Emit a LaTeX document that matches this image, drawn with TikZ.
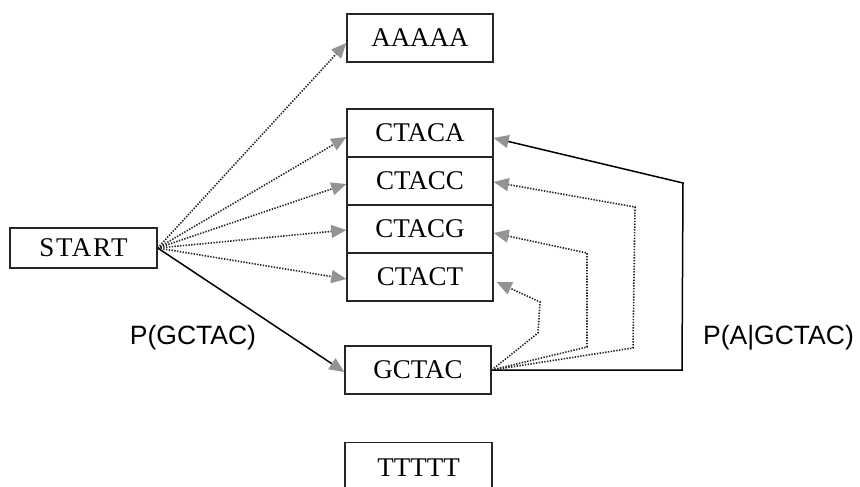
\documentclass[tikz,border=0pt]{standalone}
\usepackage{fontspec}
\setmainfont{Liberation Serif}
\newfontfamily\labelfont{Liberation Sans}
\usetikzlibrary{arrows.meta}

\tikzset{
  seqbox/.style={draw=black!85, line width=1.4pt, rectangle, inner sep=0pt,
    minimum width=146pt, minimum height=48pt,
    font=\fontsize{27}{29}\selectfont},
  tip/.style={-{Triangle[length=15pt,width=13pt,color=gray!85]}},
  dotlink/.style={tip, draw=black!85, line width=1.6pt,
    dash pattern=on 1.4pt off 1.4pt},
  solidlink/.style={tip, draw=black, line width=1.5pt},
  problabel/.style={font=\labelfont\fontsize{26.5}{28}\selectfont, inner sep=0pt}
}

\begin{document}
\begin{tikzpicture}[x=1pt,y=-1pt]
  \clip (0,0) rectangle (860,487);
  \fill[white] (0,0) rectangle (860,487);

  % states
  \node[seqbox] (aaaaa) at (420,38) {AAAAA};
  \node[seqbox] (ctaca) at (420,133) {CTACA};
  \node[seqbox] (ctacc) at (420,181) {CTACC};
  \node[seqbox] (ctacg) at (420,229) {CTACG};
  \node[seqbox] (ctact) at (420,277) {CTACT};
  \node[seqbox, minimum width=147pt, minimum height=40pt,
        font=\addfontfeature{LetterSpace=6}\fontsize{27}{29}\selectfont] (start) at (83.5,248) {START};
  \node[seqbox] (gctac) at (418,370) {GCTAC};
  % the lowest state runs past the bottom edge
  \node[seqbox, minimum width=147pt, minimum height=100pt, anchor=north,
        text height=24pt, text depth=57pt] (ttttt) at (418.5,442) {TTTTT};

  % transitions out of START
  \draw[dotlink] (start.east) -- ([yshift=-5pt]aaaaa.west);
  \draw[dotlink] (start.east) -- ([yshift=-4pt]ctaca.west);
  \draw[dotlink] (start.east) -- ([yshift=-3pt]ctacc.west);
  \draw[dotlink] (start.east) -- ([yshift=-1pt]ctacg.west);
  \draw[dotlink] (start.east) -- ([yshift=-2pt]ctact.west);
  \draw[solidlink] (start.east) -- ([yshift=-2pt]gctac.west);

  % transitions out of GCTAC
  \coordinate (a1) at (682,370);
  \coordinate (a2) at (683,183);
  \draw[solidlink] (gctac.east) -- (a1) -- (a2) -- ([yshift=-5pt]ctaca.east);
  \coordinate (c1) at (633,348);
  \coordinate (c2) at (635,207);
  \draw[dotlink] (gctac.east) -- (c1) -- (c2) -- ([yshift=-1pt]ctacc.east);
  \coordinate (g1) at (587,347);
  \coordinate (g2) at (587,253);
  \draw[dotlink] (gctac.east) -- (g1) -- (g2) -- ([yshift=-4pt]ctacg.east);
  \coordinate (t1) at (538,333);
  \coordinate (t2) at (540,302);
  \draw[dotlink] (gctac.east) -- (t1) -- (t2) -- ([xshift=3pt,yshift=-5pt]ctact.east);

  % probabilities
  \node[problabel] (pg) at (193,338) {P(GCTAC)};
  \node[problabel] (pag) at (778.5,338) {P(A|GCTAC)};
\end{tikzpicture}
\end{document}
